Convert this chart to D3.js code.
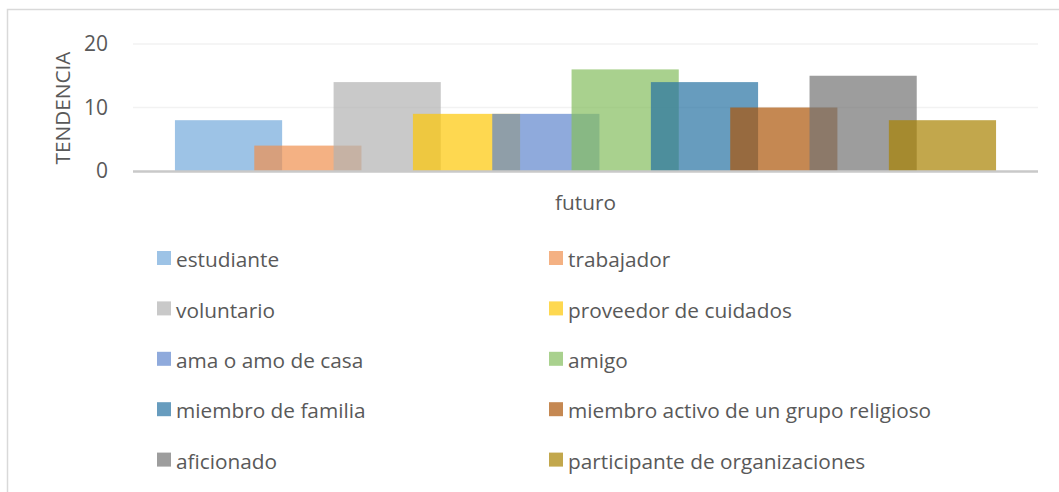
<!DOCTYPE html>
<html>
<head>
<meta charset="utf-8">
<script src="https://cdn.jsdelivr.net/npm/d3@7"></script>
<style>
  body { margin: 0; background: #fff; }
  svg { display: block; font-family: "Open Sans", sans-serif; }
  .tick text { fill: #595959; }
</style>
</head>
<body>
<script>
/* Data */
var categories = ["futuro"];
var seriesNames = ["estudiante", "trabajador", "voluntario", "proveedor de cuidados",
  "ama o amo de casa", "amigo", "miembro de familia",
  "miembro activo de un grupo religioso", "aficionado", "participante de organizaciones"];
var seriesValues = [8, 4, 14, 9, 9, 16, 14, 10, 15, 8];
var yTicks = [0, 10, 20];

/* Look */
var WIDTH = 1059, HEIGHT = 492;
var colors = ["#73a9db", "#ef904e", "#b2b2b2", "#fec705", "#5f86cd",
  "#84bd5e", "#2772a2", "#ac5608", "#747474", "#a88200"];
var OPACITY = 0.7;
var OVERLAP = 0.26;
var FONT = 20.8;
var plot = {left: 133, right: 1038, top: 44, bottom: 171};

var svg = d3.select("body").append("svg")
    .attr("width", WIDTH)
    .attr("height", HEIGHT);

// chart frame (only top/left visible)
svg.append("rect")
    .attr("x", 7.5).attr("y", 9.5)
    .attr("width", WIDTH + 20).attr("height", HEIGHT + 20)
    .attr("fill", "none")
    .attr("stroke", "#d9d9d9")
    .attr("stroke-width", 1.5);

var y = d3.scaleLinear().domain([0, 20]).range([plot.bottom, plot.top]);
var x0 = d3.scaleBand().domain(categories).range([plot.left, plot.right]).padding(0.0486);

// gridlines
svg.append("g").selectAll("line")
    .data(yTicks.filter(d => d > 0))
    .join("line")
    .attr("x1", plot.left).attr("x2", plot.right)
    .attr("y1", d => y(d)).attr("y2", d => y(d))
    .attr("stroke", "#f2f2f2")
    .attr("stroke-width", 1.5);

// y axis labels
var yAxis = svg.append("g")
    .attr("transform", "translate(" + plot.left + ",0)")
    .call(d3.axisLeft(y).tickValues(yTicks).tickSize(0).tickPadding(25));
yAxis.select(".domain").remove();
yAxis.selectAll("text").attr("font-size", 21).attr("font-family", "Open Sans");

// bars
var n = seriesNames.length;
var barW = x0.bandwidth() / ((n - 1) * (1 - OVERLAP) + 1);
var xi = d3.scaleLinear().domain([0, n - 1]).range([0, x0.bandwidth() - barW]);

categories.forEach(function(cat) {
  svg.append("g").selectAll("rect")
      .data(seriesValues)
      .join("rect")
      .attr("x", (d, i) => x0(cat) + xi(i))
      .attr("y", d => y(d))
      .attr("width", barW)
      .attr("height", d => y(0) - y(d))
      .attr("fill", (d, i) => colors[i])
      .attr("fill-opacity", OPACITY);
});

// baseline
svg.append("line")
    .attr("x1", plot.left).attr("x2", plot.right)
    .attr("y1", y(0) + 0.5).attr("y2", y(0) + 0.5)
    .attr("stroke", "#c9c9c9")
    .attr("stroke-width", 2.5);

// category label
svg.selectAll(".cat")
    .data(categories)
    .join("text")
    .attr("class", "cat")
    .attr("x", d => x0(d) + x0.bandwidth() / 2)
    .attr("y", 210)
    .attr("text-anchor", "middle")
    .attr("font-size", FONT)
    .attr("fill", "#595959")
    .text(d => d);

// y title
svg.append("text")
    .attr("transform", "translate(70,108) rotate(-90)")
    .attr("text-anchor", "middle")
    .attr("font-size", FONT)
    .attr("fill", "#595959")
    .text("TENDENCIA");

// legend, two columns
var legend = svg.append("g").selectAll("g")
    .data(seriesNames)
    .join("g")
    .attr("transform", (d, i) => "translate(" + (i % 2 ? 549 : 157) + "," + (251 + Math.floor(i / 2) * 50.4) + ")");

legend.append("rect")
    .attr("width", 14).attr("height", 14)
    .attr("fill", (d, i) => colors[i])
    .attr("fill-opacity", OPACITY);

legend.append("text")
    .attr("x", 19)
    .attr("y", 9)
    .attr("dy", "0.35em")
    .attr("font-size", FONT)
    .attr("fill", "#595959")
    .text(d => d);
</script>
</body>
</html>
